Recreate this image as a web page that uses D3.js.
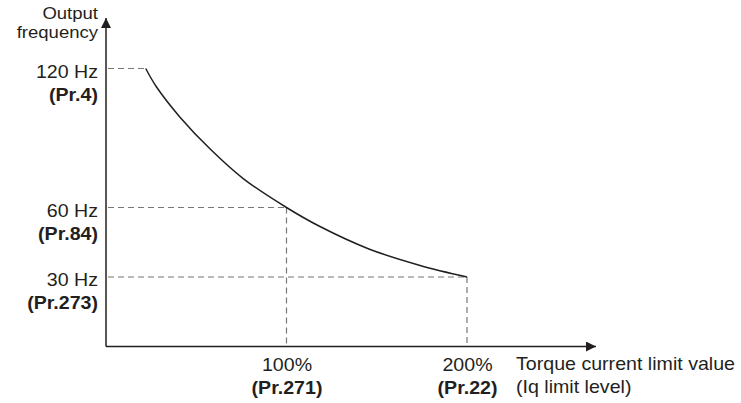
<!DOCTYPE html>
<head>
<meta charset="utf-8">
<script src="https://cdn.jsdelivr.net/npm/d3@7/dist/d3.min.js"></script>
<style>
body { margin: 0; background: #fff; }
text { font-family: "Liberation Sans", Arial, sans-serif; fill: #231f20; }
</style>
</head>
<body>
<script>
// curve: torque current limit (%) vs output frequency (Hz)
var torque = [22, 28, 41, 58, 76, 100, 118, 146, 174, 200];
var freq   = [120, 112, 99, 85, 72.5, 60, 52, 42, 35, 30];
// marked levels
var freqMarks   = [120, 60, 30];
var freqLabels  = ["120 Hz", "60 Hz", "30 Hz"];
var freqParams  = ["(Pr.4)", "(Pr.84)", "(Pr.273)"];
var torqueMarks  = [100, 200];
var torqueLabels = ["100%", "200%"];
var torqueParams = ["(Pr.271)", "(Pr.22)"];

var width = 741, height = 403, sx = 1.09;
var ink = "#231f20", dash = "#777";

var svg = d3.select("body").append("svg")
  .attr("width", width)
  .attr("height", height)
  .attr("xmlns", "http://www.w3.org/2000/svg");

var x = d3.scaleLinear().domain([0, 200]).range([106, 467]);
var y = d3.scaleLinear().domain([0, 120]).range([346.5, 68.5]);

svg.append("defs").append("marker")
  .attr("id", "arrow").attr("viewBox", "0 0 10 10")
  .attr("refX", 10).attr("refY", 5)
  .attr("markerWidth", 10).attr("markerHeight", 10)
  .attr("markerUnits", "userSpaceOnUse")
  .attr("orient", "auto")
  .append("path").attr("d", "M0,0L10,5L0,10Z").attr("fill", ink);

var pts = torque.map(function(t, i) { return [t, freq[i]]; });
function torqueAt(f) { return torque[freq.indexOf(f)]; }

// dashed guides
svg.selectAll("line.hguide")
  .data(freqMarks).enter().append("line")
  .attr("class", "hguide")
  .attr("x1", x(0) + 2).attr("x2", function(d) { return x(torqueAt(d)); })
  .attr("y1", function(d) { return y(d); }).attr("y2", function(d) { return y(d); })
  .attr("stroke", dash).attr("stroke-width", 1.2).attr("stroke-dasharray", "6,4");
svg.selectAll("line.vguide")
  .data(torqueMarks).enter().append("line")
  .attr("class", "vguide")
  .attr("x1", function(d) { return x(d); }).attr("x2", function(d) { return x(d); })
  .attr("y1", function(d) { return y(freq[torque.indexOf(d)]); }).attr("y2", y(0))
  .attr("stroke", dash).attr("stroke-width", 1.2).attr("stroke-dasharray", "6,4");

// curve
svg.append("path")
  .datum(pts)
  .attr("fill", "none").attr("stroke", ink).attr("stroke-width", 1.5)
  .attr("d", d3.line().x(function(d) { return x(d[0]); }).y(function(d) { return y(d[1]); })
    .curve(d3.curveCatmullRom));

// axis lines with arrows
svg.append("line").attr("x1", x(0)).attr("y1", y(0)).attr("x2", x(0)).attr("y2", 18)
  .attr("stroke", ink).attr("stroke-width", 1.5).attr("marker-end", "url(#arrow)");
svg.append("line").attr("x1", x(0)).attr("y1", y(0)).attr("x2", 596).attr("y2", y(0))
  .attr("stroke", ink).attr("stroke-width", 1.5).attr("marker-end", "url(#arrow)");

// y tick labels
var yAxis = svg.append("g").attr("transform", "translate(" + x(0) + ",0)")
  .call(d3.axisLeft(y).tickValues(freqMarks).tickSize(0)
    .tickFormat(function(d, i) { return freqLabels[i]; }));
yAxis.select(".domain").remove();
yAxis.attr("font-family", null).attr("font-size", null);
yAxis.selectAll(".tick text")
  .attr("x", null).attr("dy", null)
  .attr("text-anchor", "end").style("font-size", "18px")
  .attr("transform", "translate(-8,8.6) scale(" + sx + ",1)");
yAxis.selectAll(".tick").append("text")
  .attr("text-anchor", "end").style("font-size", "18px").style("font-weight", "bold")
  .attr("transform", "translate(-8,31.8) scale(" + sx + ",1)")
  .text(function(d, i) { return freqParams[i]; });

// x tick labels
var xAxis = svg.append("g").attr("transform", "translate(0," + y(0) + ")")
  .call(d3.axisBottom(x).tickValues(torqueMarks).tickSize(0)
    .tickFormat(function(d, i) { return torqueLabels[i]; }));
xAxis.select(".domain").remove();
xAxis.attr("font-family", null).attr("font-size", null);
xAxis.selectAll(".tick text")
  .attr("y", null).attr("dy", null)
  .attr("text-anchor", "middle").style("font-size", "18px")
  .attr("transform", "translate(0,24) scale(" + sx + ",1)");
xAxis.selectAll(".tick").append("text")
  .attr("text-anchor", "middle").style("font-size", "18px").style("font-weight", "bold")
  .attr("transform", "translate(0,47) scale(" + sx + ",1)")
  .text(function(d, i) { return torqueParams[i]; });

// axis titles, two lines each in one text element
function label(lines, px, py, gap, size, anchor) {
  var t = svg.append("text").attr("text-anchor", anchor).style("font-size", size + "px")
    .attr("transform", "translate(" + px + "," + py + ") scale(" + sx + ",1)");
  lines.forEach(function(s, i) {
    t.append("tspan").attr("x", 0).attr("y", i * gap).text(s);
  });
}
label(["Output", "frequency"], 98, 19, 19.5, 17, "end");
label(["Torque current limit value", "(Iq limit level)"], 516, 370, 23, 18, "start");
</script>
</body>
